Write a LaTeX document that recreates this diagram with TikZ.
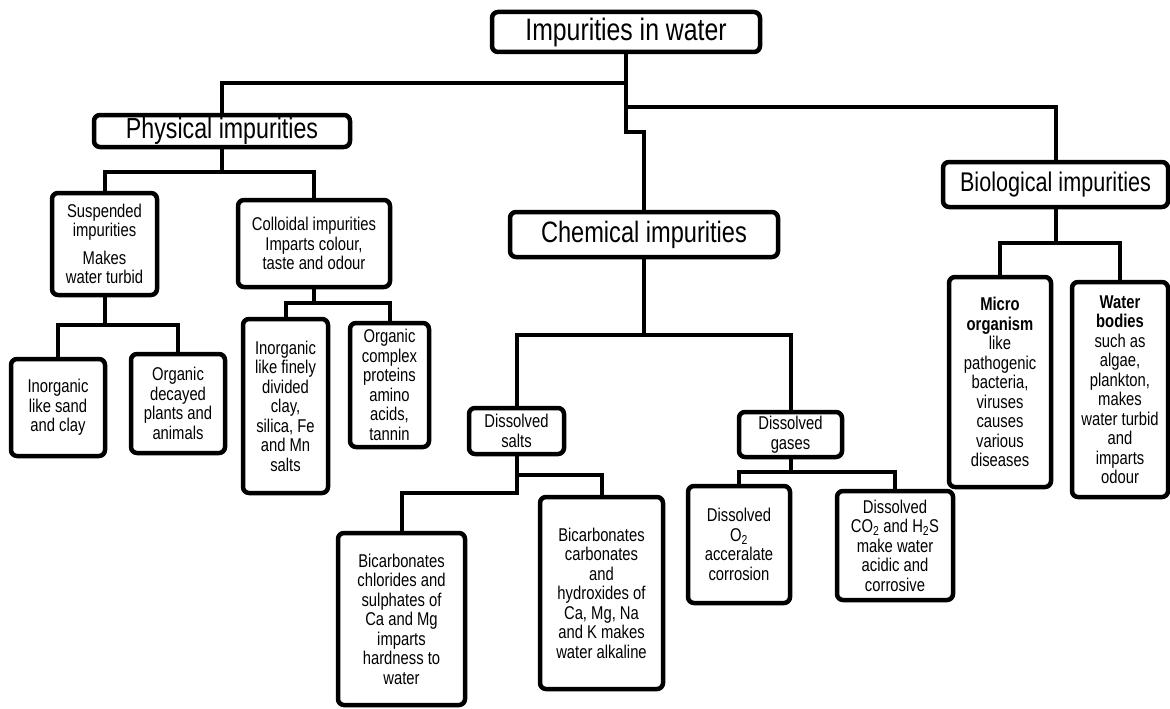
\documentclass[tikz,border=0pt]{standalone}
\usepackage{fontspec}
\setmainfont[FakeStretch=0.8]{Liberation Sans}
\begin{document}
\begin{tikzpicture}[x=1pt,y=-1pt,
  bx/.style={draw=black, line width=4.5pt, rounded corners=6pt, fill=white,
    inner sep=0pt, align=center, font=\fontsize{18.5}{19.5}\selectfont},
  big/.style={font=\fontsize{#1}{#1}\selectfont},
  ln/.style={draw=black, line width=4pt}]
\useasboundingbox (0,0) rectangle (1170,709);
% coordinates of junctions
\coordinate (t1) at (626,83);
\coordinate (t2) at (626,107);
\coordinate (t3) at (626,132);
\coordinate (p1) at (222,172);
\coordinate (s1) at (104.5,325);
\coordinate (c1) at (314,303);
\coordinate (ch1) at (644,335);
\coordinate (sa1) at (516.5,475);
\coordinate (sa2) at (516.5,493);
\coordinate (g1) at (790.5,472);
\coordinate (b1) at (1055.5,243);
% boxes
\node[bx, big=31, minimum width=268, minimum height=40] (top) at (626,32) {Impurities in water};
\node[bx, big=29, minimum width=256, minimum height=32] (phys) at (222,131) {Physical impurities};
\node[bx, big=29.5, minimum width=268, minimum height=45] (chem) at (644,234.5) {Chemical impurities};
\node[bx, big=27, minimum width=225, minimum height=45] (bio) at (1055.5,184.5) {Biological impurities};
\node[bx, minimum width=105, minimum height=102] (susp) at (104.5,244) {Suspended\\impurities\\[8pt]Makes\\water turbid};
\node[bx, minimum width=152, minimum height=87] (coll) at (314,243.5) {Colloidal impurities\\Imparts colour,\\taste and odour};
\node[bx, minimum width=94, minimum height=97] (inorg1) at (58,407.5) {Inorganic\\like sand\\and clay};
\node[bx, minimum width=94, minimum height=99] (org1) at (178,403.5) {Organic\\decayed\\plants and\\animals};
\node[bx, minimum width=85, minimum height=174] (inorg2) at (285.5,406) {Inorganic\\like finely\\divided\\clay,\\silica, Fe\\and Mn\\salts};
\node[bx, minimum width=79, minimum height=124] (org2) at (389.5,385) {Organic\\complex\\proteins\\amino\\acids,\\tannin};
\node[bx, minimum width=95, minimum height=46] (salts) at (516.5,431) {Dissolved\\salts};
\node[bx, minimum width=103, minimum height=45] (gases) at (790.5,434.5) {Dissolved\\gases};
\node[bx, minimum width=127, minimum height=172] (bic1) at (401.5,619) {Bicarbonates\\chlorides and\\sulphates of\\Ca and Mg\\imparts\\hardness to\\water};
\node[bx, minimum width=123, minimum height=192] (bic2) at (601.5,593) {Bicarbonates\\carbonates\\and\\hydroxides of\\Ca, Mg, Na\\and K makes\\water alkaline};
\node[bx, minimum width=102, minimum height=117] (oxy) at (739,544.5) {Dissolved\\O\textsubscript{2}\\acceralate\\corrosion};
\node[bx, minimum width=116, minimum height=109] (cot) at (895,545.5) {Dissolved\\CO\textsubscript{2} and H\textsubscript{2}S\\make water\\acidic and\\corrosive};
\node[bx, minimum width=102, minimum height=210] (micro) at (1000,382) {\textbf{Micro}\\\textbf{organism}\\like\\pathogenic\\bacteria,\\viruses\\causes\\various\\diseases};
\node[bx, minimum width=96, minimum height=215] (wat) at (1120,389.5) {\textbf{Water}\\\textbf{bodies}\\such as\\algae,\\plankton,\\makes\\water turbid\\and\\imparts\\odour};
% connectors between named nodes
\draw[ln] (top.south) -- (t1) -| (phys.north);
\draw[ln] (t1) -- (t2) -| (bio.north);
\draw[ln] (t2) -- (t3) -| (chem.north);
\draw[ln] (phys.south) -- (p1);
\draw[ln] (p1) -| (susp.north);
\draw[ln] (p1) -| (coll.north);
\draw[ln] (susp.south) -- (s1);
\draw[ln] (s1) -| (inorg1.north);
\draw[ln] (s1) -| (org1.north);
\draw[ln] (coll.south) -- (c1);
\draw[ln] (c1) -| (inorg2.north);
\draw[ln] (c1) -| (org2.north);
\draw[ln] (chem.south) -- (ch1);
\draw[ln] (ch1) -| (salts.north);
\draw[ln] (ch1) -| (gases.north);
\draw[ln] (salts.south) -- (sa2) -| (bic1.north);
\draw[ln] (sa1) -| (bic2.north);
\draw[ln] (gases.south) -- (g1);
\draw[ln] (g1) -| (oxy.north);
\draw[ln] (g1) -| (cot.north);
\draw[ln] (bio.south) -- (b1);
\draw[ln] (b1) -| (micro.north);
\draw[ln] (b1) -| (wat.north);
\end{tikzpicture}
\end{document}
